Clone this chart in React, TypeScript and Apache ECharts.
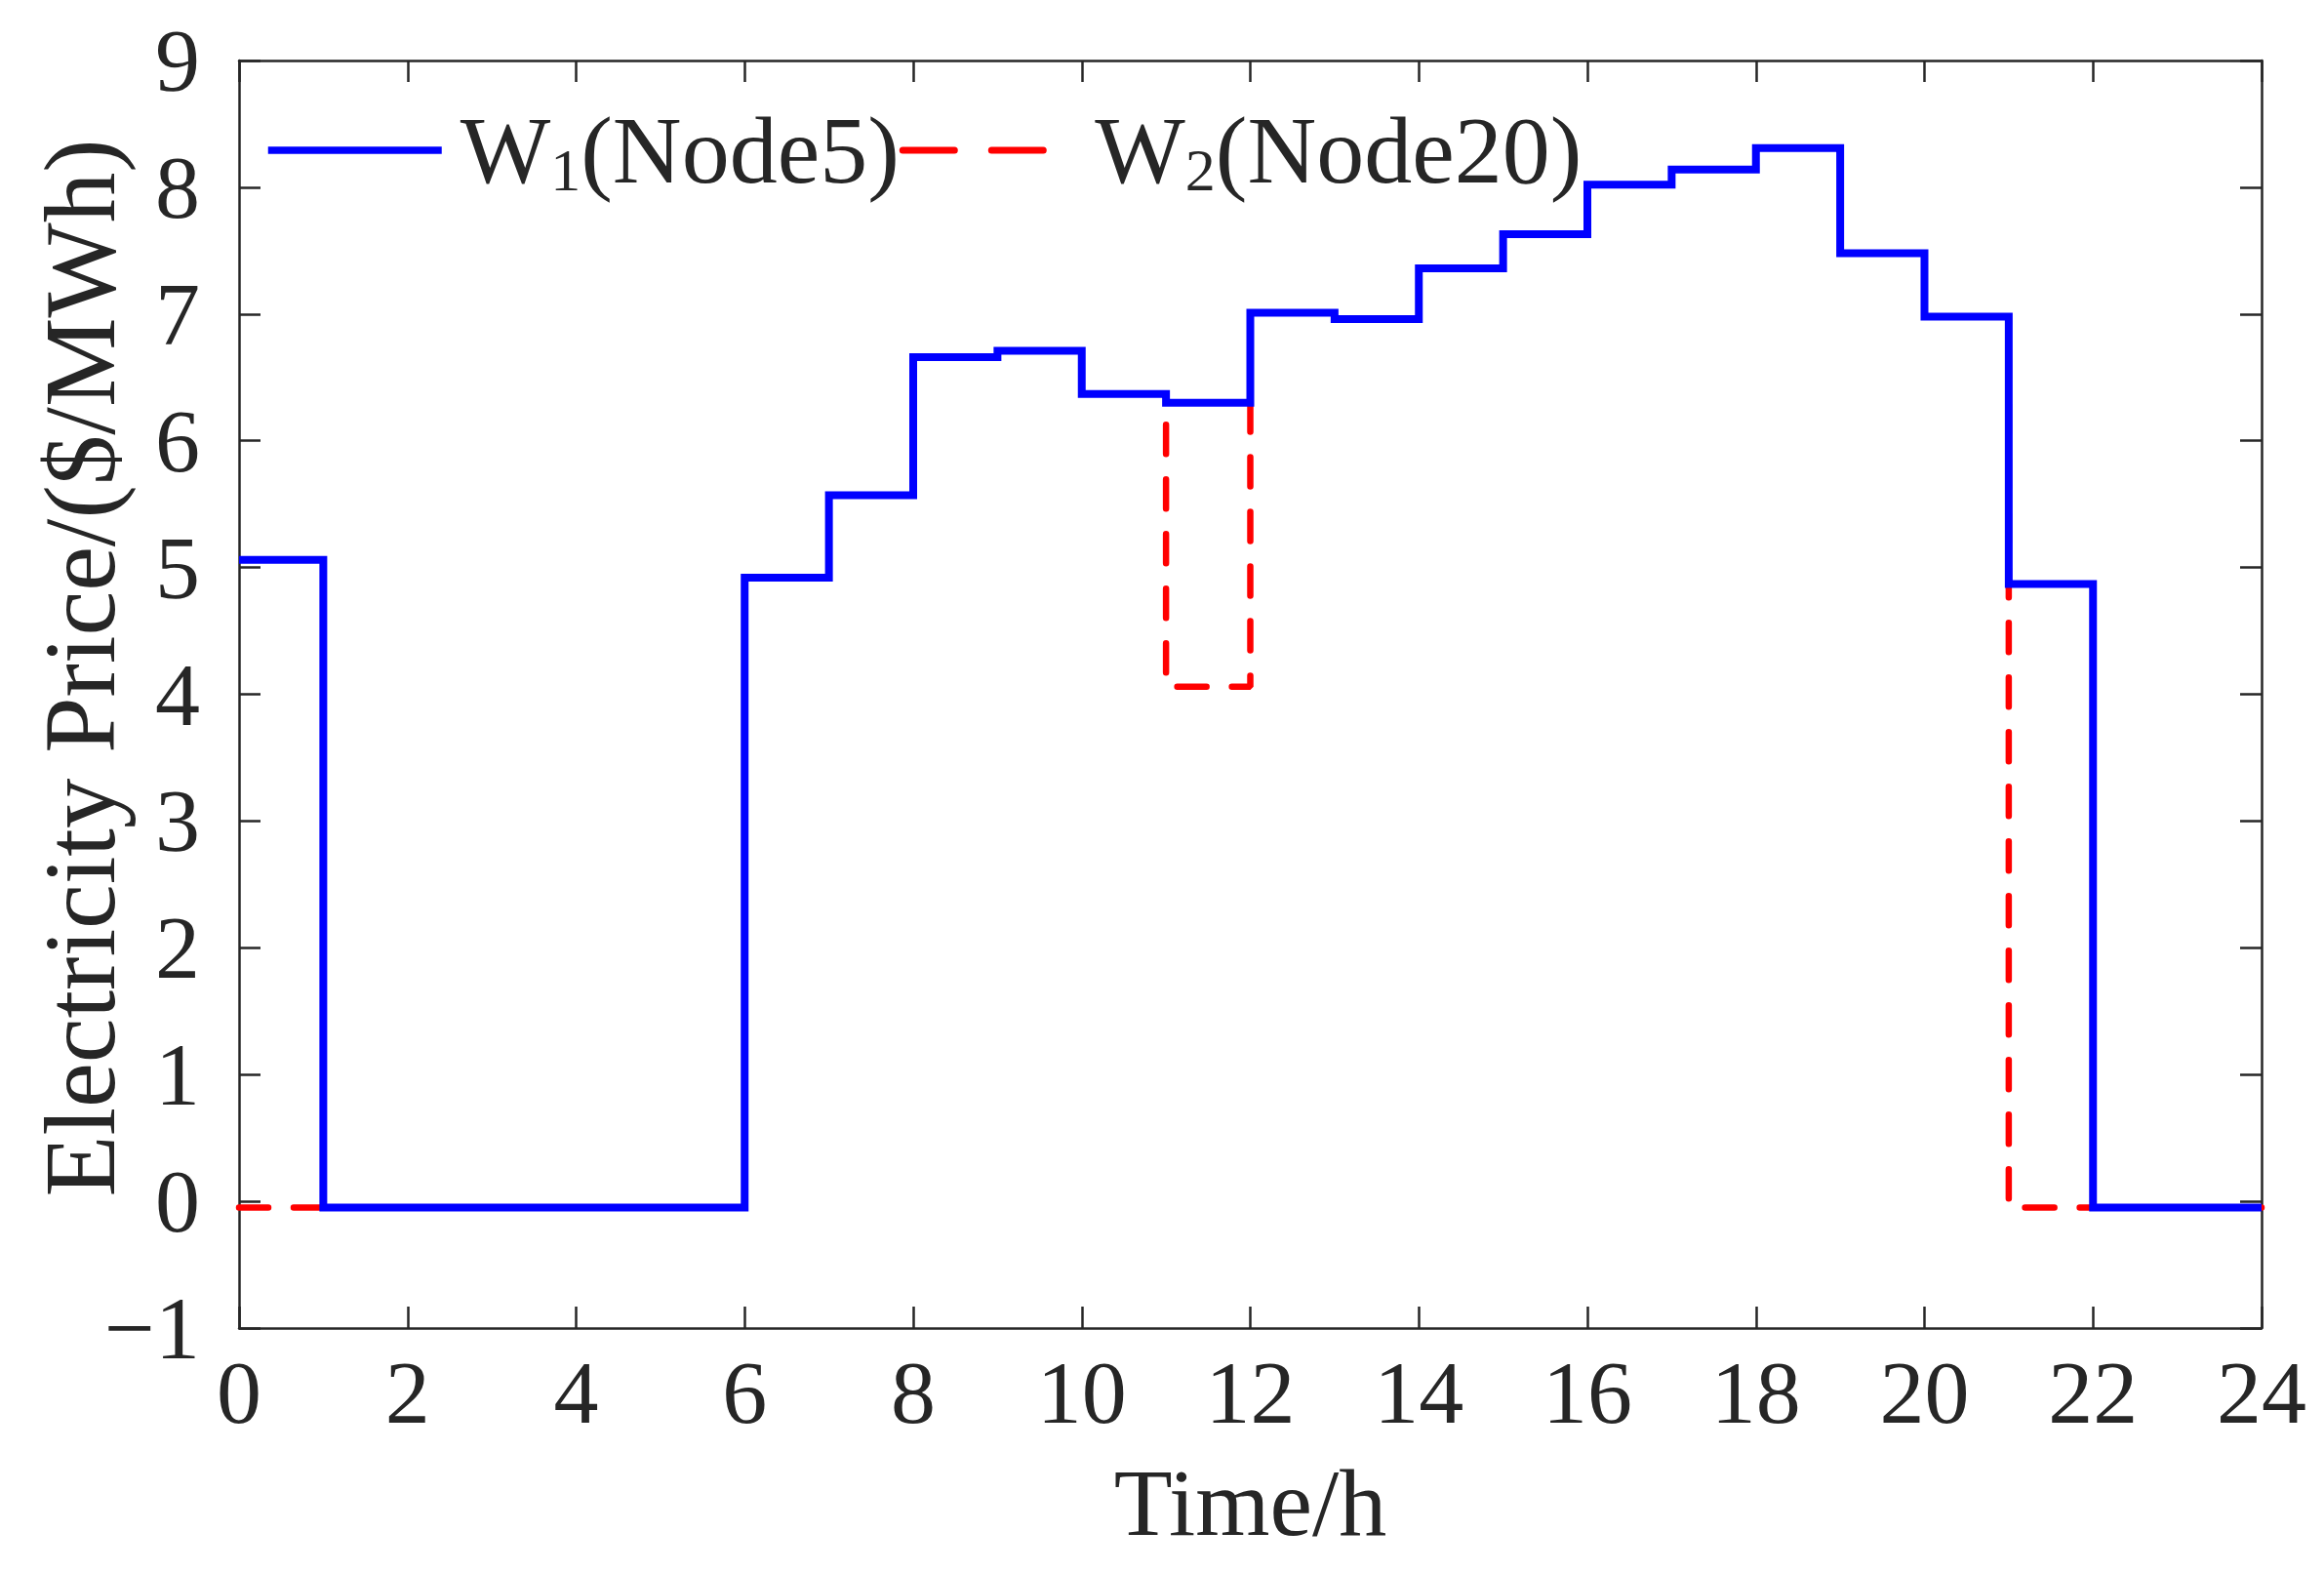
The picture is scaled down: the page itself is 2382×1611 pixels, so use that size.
import { useEffect, useRef } from 'react'
import * as echarts from 'echarts'

// hourly prices, value held over [h, h+1)
const hours = [0, 1, 2, 3, 4, 5, 6, 7, 8, 9, 10, 11, 12, 13, 14, 15, 16, 17, 18, 19, 20, 21, 22, 23]
const w1Price = [5.06, -0.05, -0.05, -0.05, -0.05, -0.05, 4.92, 5.57, 6.66, 6.71, 6.37, 6.3, 7.01, 6.96, 7.36, 7.63, 8.02, 8.14, 8.31, 7.48, 6.98, 4.87, -0.05, -0.05]
const w2Price = [-0.05, -0.05, -0.05, -0.05, -0.05, -0.05, 4.92, 5.57, 6.66, 6.71, 6.37, 4.06, 7.01, 6.96, 7.36, 7.63, 8.02, 8.14, 8.31, 7.48, 6.98, -0.05, -0.05, -0.05]
const seriesNames = ['W1(Node5)', 'W2(Node20)']

const FONT = '"Liberation Serif", "DejaVu Serif", serif'
const INK = '#262626'

// step series points, last value repeated at hour 24
function stepPoints(values: number[]) {
  const pts = hours.map((h, i) => [h, values[i]])
  pts.push([hours[hours.length - 1] + 1, values[values.length - 1]])
  return pts
}

export default function App() {
  const chartRef = useRef<HTMLDivElement>(null)

  useEffect(() => {
    if (!chartRef.current) return
    document.body.style.margin = '0'
    const chart = echarts.init(chartRef.current, null, { renderer: 'svg' })

    const axisLine = { show: true, onZero: false, lineStyle: { color: INK, width: 2.5 } }
    const tick = { show: true, inside: true, length: 22, lineStyle: { color: INK, width: 2.5 } }

    const option: echarts.EChartsOption = {
      animation: false,
      backgroundColor: '#ffffff',
      grid: { left: 245, right: 64, top: 62, bottom: 250, outerBoundsMode: 'none' } as any,
      legend: {
        data: [
          { name: seriesNames[0], lineStyle: { width: 7.5, cap: 'butt' } },
          { name: seriesNames[1], lineStyle: { width: 7, type: [53, 38], cap: 'round' } }
        ],
        left: 266,
        top: 100,
        itemWidth: 178,
        itemHeight: 40,
        itemGap: 0,
        itemStyle: { opacity: 0 },
        formatter: (name: string) => name.replace(/^W(\d)(.*)$/, '{g|}{a|W}{s|$1}{a|$2}'),
        textStyle: {
          fontFamily: FONT,
          fontSize: 98,
          color: INK,
          rich: {
            g: { width: 14 },
            a: { fontFamily: FONT, fontSize: 98, color: INK, lineHeight: 102 },
            s: { fontFamily: FONT, fontSize: 62, color: INK, verticalAlign: 'bottom', lineHeight: 102 }
          }
        }
      },
      xAxis: [
        {
          type: 'value',
          min: 0,
          max: 24,
          interval: 2,
          name: 'Time/h',
          nameLocation: 'middle',
          nameGap: 130,
          nameMoveOverlap: false,
          nameTextStyle: { fontFamily: FONT, fontSize: 98, color: INK },
          axisLine,
          axisTick: tick,
          splitLine: { show: false },
          axisLabel: { fontFamily: FONT, fontSize: 92, color: INK, margin: 20 }
        } as any,
        {
          type: 'value',
          position: 'top',
          min: 0,
          max: 24,
          interval: 2,
          axisLine,
          axisTick: tick,
          splitLine: { show: false },
          axisLabel: { show: false }
        }
      ],
      yAxis: [
        {
          type: 'value',
          min: -1,
          max: 9,
          interval: 1,
          name: 'Electricity Price/($/MWh)',
          nameLocation: 'middle',
          nameGap: 112,
          nameMoveOverlap: false,
          nameTextStyle: { fontFamily: FONT, fontSize: 103, color: INK, padding: [0, 0, 0, 54] },
          axisLine,
          axisTick: tick,
          splitLine: { show: false },
          axisLabel: {
            fontFamily: FONT,
            fontSize: 92,
            color: INK,
            margin: 40,
            formatter: (v: number) => String(v).replace('-', '\u2212')
          }
        } as any,
        {
          type: 'value',
          position: 'right',
          min: -1,
          max: 9,
          interval: 1,
          axisLine,
          axisTick: tick,
          splitLine: { show: false },
          axisLabel: { show: false }
        }
      ],
      series: [
        {
          name: seriesNames[1],
          type: 'line',
          step: 'end',
          symbol: 'none',
          data: stepPoints(w2Price),
          lineStyle: { color: '#ff0000', width: 6.5, type: [30, 26], cap: 'round' },
          itemStyle: { color: '#ff0000' },
          z: 2
        },
        {
          name: seriesNames[0],
          type: 'line',
          step: 'end',
          symbol: 'none',
          data: stepPoints(w1Price),
          lineStyle: { color: '#0000ff', width: 8, join: 'miter' },
          itemStyle: { color: '#0000ff' },
          z: 3
        }
      ]
    }

    chart.setOption(option)

    return () => {
      chart.dispose()
    }
  }, [])

  return <div ref={chartRef} style={{ width: '2382px', height: '1611px' }} />
}
